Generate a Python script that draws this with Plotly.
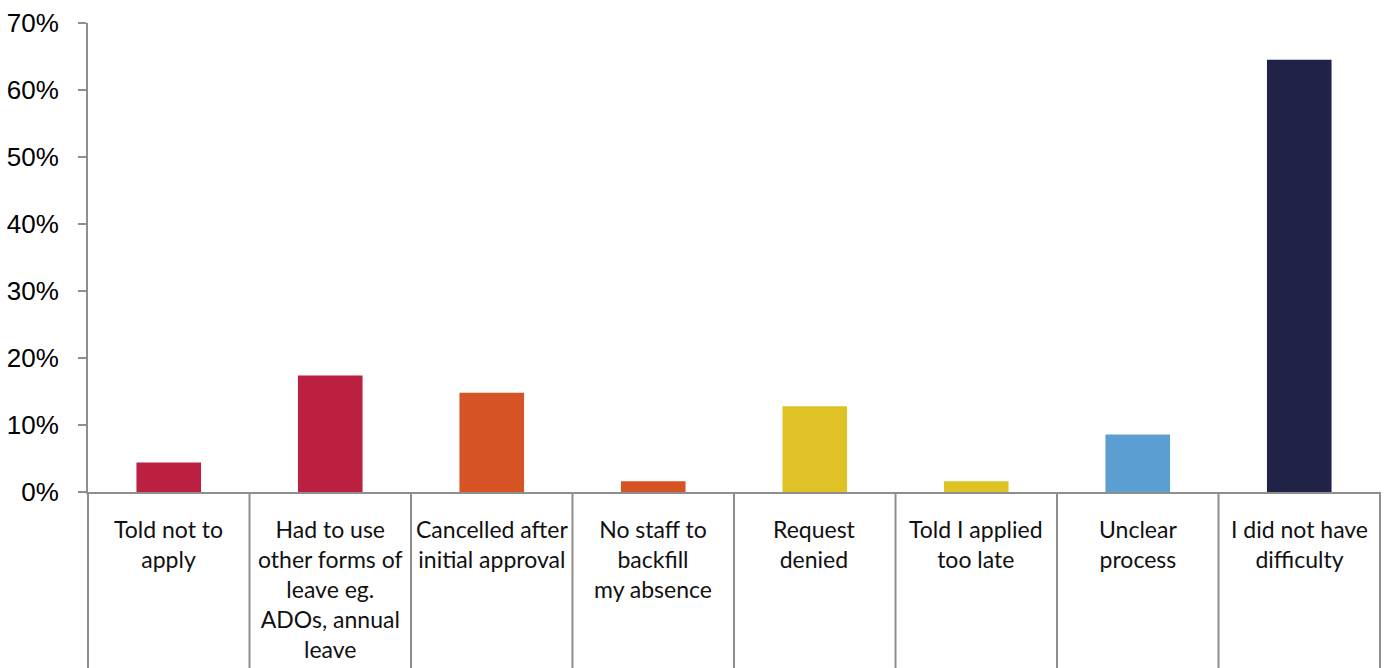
import plotly.graph_objects as go

# Survey responses: difficulties encountered when applying for leave
categories = [
    "Told not to<br>apply",
    "Had to use<br>other forms of<br>leave eg.<br>ADOs, annual<br>leave",
    "Cancelled after<br>initial approval",
    "No staff to<br>backfill<br>my absence",
    "Request<br>denied",
    "Told I applied<br>too late",
    "Unclear<br>process",
    "I did not have<br>difficulty",
]
shares = [4.4, 17.4, 14.8, 1.6, 12.8, 1.6, 8.6, 64.5]
bar_colors = ["#BB2040", "#BB2040", "#D65326", "#D65326",
              "#DFC226", "#DFC226", "#5B9FD2", "#212248"]
y_ticks = [0, 10, 20, 30, 40, 50, 60, 70]

W, H = 1388, 668
M_L, M_R, M_T, M_B = 88, 8, 23, 176
plot_h = H - M_T - M_B
GRAY = "#8E8E8E"

n = len(categories)
positions = list(range(n))

fig = go.Figure(
    go.Bar(
        x=positions,
        y=shares,
        width=0.4,
        marker=dict(color=bar_colors, line=dict(width=0)),
        hoverinfo="skip",
    )
)

# Category boundary lines running below the axis
below = -M_B / plot_h
shapes = []
for i in range(n + 1):
    shapes.append(dict(
        type="line", xref="paper", yref="paper",
        x0=i / n, x1=i / n, y0=below, y1=0,
        line=dict(color=GRAY, width=2),
    ))

# Category labels under each bar
annotations = []
for i, label in enumerate(categories):
    annotations.append(dict(
        x=positions[i], xref="x", y=-21 / plot_h, yref="paper",
        text=label, showarrow=False, xanchor="center", yanchor="top",
        align="center",
        font=dict(family="Lato", size=23, color="#111111"),
    ))

fig.update_layout(
    width=W, height=H,
    margin=dict(l=M_L, r=M_R, t=M_T, b=M_B, pad=0),
    paper_bgcolor="white", plot_bgcolor="white",
    showlegend=False,
    bargap=0.6,
    shapes=shapes,
    annotations=annotations,
    xaxis=dict(
        range=[-0.5, n - 0.5],
        showticklabels=False, ticks="",
        showgrid=False, zeroline=False,
        showline=True, linecolor=GRAY, linewidth=2,
        fixedrange=True,
    ),
    yaxis=dict(
        range=[0, 70],
        tickvals=y_ticks,
        ticktext=[f"{v}%" for v in y_ticks],
        ticks="outside", ticklen=8, tickwidth=2, tickcolor=GRAY,
        ticklabelstandoff=14,
        tickfont=dict(family="Liberation Sans", size=26, color="#000000"),
        showgrid=False, zeroline=False,
        showline=True, linecolor=GRAY, linewidth=2,
        fixedrange=True,
    ),
)

fig.write_html("out.html", config={"displayModeBar": False})
